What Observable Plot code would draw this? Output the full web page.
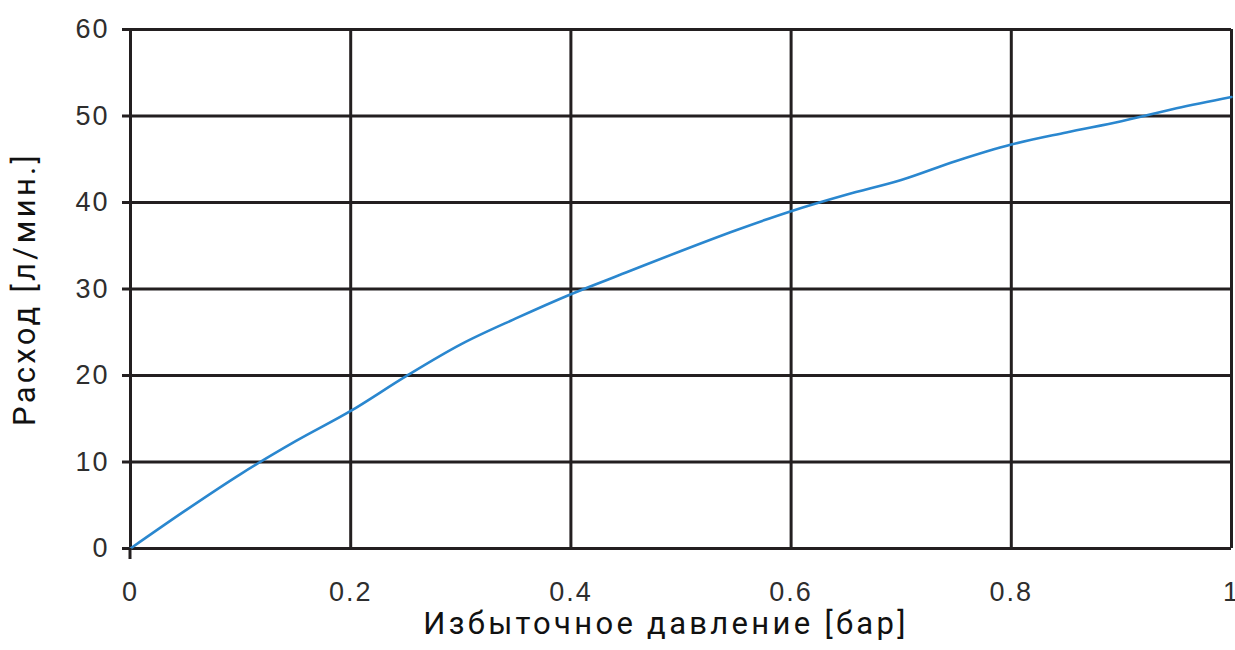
<!DOCTYPE html>
<html>
<head>
<meta charset="utf-8">
<script src="https://cdn.jsdelivr.net/npm/d3@7"></script>
<script src="https://cdn.jsdelivr.net/npm/@observablehq/plot@0.6"></script>
<style>
  html, body { margin: 0; padding: 0; background: #fff; }
  .lbl text { letter-spacing: 3.3px; }
  .ticks text { font-family: "Liberation Sans", Arial, sans-serif; letter-spacing: 2px; }
</style>
</head>
<body>
<div id="chart"></div>
<script>
const pressure = [0, 0.05, 0.1, 0.15, 0.2, 0.25, 0.3, 0.35, 0.4, 0.45, 0.5, 0.55, 0.6, 0.65, 0.7, 0.75, 0.8, 0.85, 0.9, 0.95, 1.0];
const flow     = [0, 4.4, 8.6, 12.4, 15.9, 19.9, 23.6, 26.6, 29.4, 31.9, 34.4, 36.8, 39.0, 40.9, 42.6, 44.8, 46.7, 48.1, 49.4, 50.9, 52.2];
const xTicks = [0, 0.2, 0.4, 0.6, 0.8, 1];
const xTickLabels = ["0", "0.2", "0.4", "0.6", "0.8", "1"];
const yTicks = [0, 10, 20, 30, 40, 50, 60];
const xLabel = "Избыточное давление [бар]";
const yLabel = "Расход [л/мин.]";

const data = pressure.map((p, i) => ({p, q: flow[i]}));
const gridColor = "#231f20";

const chart = Plot.plot({
  width: 1235,
  height: 650,
  marginLeft: 130,
  marginRight: 4,
  marginTop: 29,
  marginBottom: 102,
  style: {fontFamily: "'Liberation Sans', Arial, sans-serif", fontSize: "27px", color: "#222", background: "#fff"},
  x: {domain: [0, 1]},
  y: {domain: [0, 60]},
  marks: [
    Plot.ruleX(xTicks, {stroke: gridColor, strokeWidth: 3}),
    Plot.ruleY(yTicks, {stroke: gridColor, strokeWidth: 3}),
    Plot.axisY(yTicks, {tickSize: 8, tickPadding: 13, stroke: gridColor, strokeWidth: 3, label: null, fill: "#2e2e2e", className: "ticks", fontSize: 27}),
    Plot.axisX(xTicks, {tickSize: 0, tickPadding: 33, label: null, tickFormat: d => xTickLabels[xTicks.indexOf(d)], fill: "#2e2e2e", className: "ticks", fontSize: 27}),
    Plot.line(data, {x: "p", y: "q", stroke: "#2a87cf", strokeWidth: 2.6, curve: "monotone-x"}),
    Plot.text([xLabel], {frameAnchor: "bottom", textAnchor: "middle", lineAnchor: "middle", dx: -15, dy: 76, fontSize: 31, fontFamily: "Roboto, sans-serif", fill: "#111", className: "lbl"}),
    Plot.text([yLabel], {frameAnchor: "left", textAnchor: "middle", lineAnchor: "middle", dx: -105, rotate: -90, fontSize: 31, fontFamily: "Roboto, sans-serif", fill: "#111", className: "lbl"})
  ]
});
// extend the x=0 tick slightly below the axis
d3.select(chart).append("line")
  .attr("x1", 130).attr("x2", 130).attr("y1", 548).attr("y2", 559)
  .attr("stroke", gridColor).attr("stroke-width", 3);
document.getElementById("chart").appendChild(chart);
</script>
</body>
</html>
